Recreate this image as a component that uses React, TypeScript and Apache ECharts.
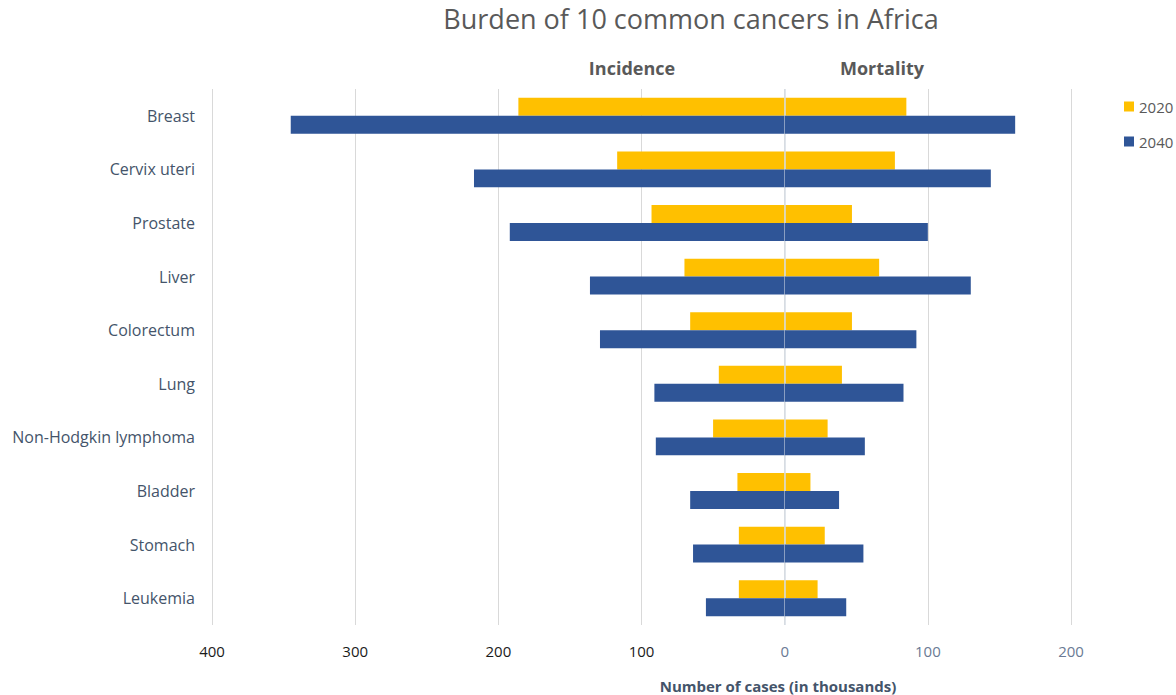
import React, { useEffect, useRef } from "react";
import * as echarts from "echarts";

// Cancer sites, top to bottom
const categories = [
  "Breast",
  "Cervix uteri",
  "Prostate",
  "Liver",
  "Colorectum",
  "Lung",
  "Non-Hodgkin lymphoma",
  "Bladder",
  "Stomach",
  "Leukemia",
];

// New cases (thousands)
const incidence2020 = [186, 117, 93, 70, 66, 46, 50, 33, 32, 32];
const incidence2040 = [345, 217, 192, 136, 129, 91, 90, 66, 64, 55];

// Deaths (thousands)
const mortality2020 = [85, 77, 47, 66, 47, 40, 30, 18, 28, 23];
const mortality2040 = [161, 144, 100, 130, 92, 83, 56, 38, 55, 43];

const YELLOW = "#FFC000";
const BLUE = "#2F5597";
const FONT = "'Open Sans', 'Noto Sans', sans-serif";

export default function App() {
  const ref = useRef<HTMLDivElement>(null);

  useEffect(() => {
    if (!ref.current) return;
    const chart = echarts.init(ref.current, null, { renderer: "svg" });

    const barCommon = {
      type: "bar" as const,
      barGap: "0%",
      barCategoryGap: "33%",
    };

    const headerText = (text: string, x: number) => ({
      type: "text",
      x,
      y: 68,
      style: {
        text,
        font: `bold 18px ${FONT}`,
        fill: "#595959",
        align: "center",
        verticalAlign: "middle",
      },
    });

    chart.setOption({
      animation: false,
      backgroundColor: "#ffffff",
      textStyle: { fontFamily: FONT },
      title: {
        text: "Burden of 10 common cancers in Africa",
        left: 686,
        textAlign: "center",
        top: 0,
        textStyle: {
          fontFamily: FONT,
          fontSize: 27,
          fontWeight: "normal",
          color: "#595959",
        },
      },
      legend: {
        data: ["2020", "2040"],
        orient: "vertical",
        left: 1119,
        top: 94,
        itemWidth: 10,
        itemHeight: 10,
        itemGap: 20,
        icon: "rect",
        textStyle: { fontFamily: FONT, fontSize: 15, color: "#595959" },
      },
      graphic: [
        headerText("Incidence", 632),
        headerText("Mortality", 882),
        {
          type: "text",
          x: 778,
          y: 686,
          style: {
            text: "Number of cases (in thousands)",
            font: `bold 15px ${FONT}`,
            fill: "#44546A",
            align: "center",
            verticalAlign: "middle",
          },
        },
      ],
      grid: { left: 212, right: 105, top: 89, bottom: 70, containLabel: false },
      xAxis: {
        type: "value",
        min: -400,
        max: 200,
        interval: 100,
        axisLine: { show: false },
        axisTick: { show: false },
        splitLine: { lineStyle: { color: "#D9D9D9", width: 1 } },
        axisLabel: {
          margin: 18,
          formatter: (v: number) => (v < 0 ? `{a|${-v}}` : `{b|${v}}`),
          rich: {
            a: { fontFamily: FONT, fontSize: 15, color: "#1a1a1a" },
            b: { fontFamily: FONT, fontSize: 15, color: "#6A7A94" },
          },
        },
      },
      yAxis: {
        type: "category",
        data: categories,
        inverse: true,
        axisLine: { show: false },
        axisTick: { show: false },
        axisLabel: {
          margin: 17,
          fontFamily: FONT,
          fontSize: 16,
          color: "#44546A",
        },
      },
      series: [
        {
          ...barCommon,
          name: "2020",
          stack: "y2020",
          itemStyle: { color: YELLOW },
          data: incidence2020.map((v) => -v),
        },
        {
          ...barCommon,
          name: "2020",
          stack: "y2020",
          itemStyle: { color: YELLOW },
          data: mortality2020,
        },
        {
          ...barCommon,
          name: "2040",
          stack: "y2040",
          itemStyle: { color: BLUE },
          data: incidence2040.map((v) => -v),
        },
        {
          ...barCommon,
          name: "2040",
          stack: "y2040",
          itemStyle: { color: BLUE },
          data: mortality2040,
          z: 5,
          markLine: {
            silent: true,
            symbol: "none",
            label: { show: false },
            lineStyle: { color: "#D6DCE5", width: 1.5, type: "solid" },
            data: [{ xAxis: 0 }],
          },
        },
      ],
    });

    return () => chart.dispose();
  }, []);

  return (
    <div
      ref={ref}
      style={{ position: "absolute", left: 0, top: 0, width: 1176, height: 695 }}
    />
  );
}
